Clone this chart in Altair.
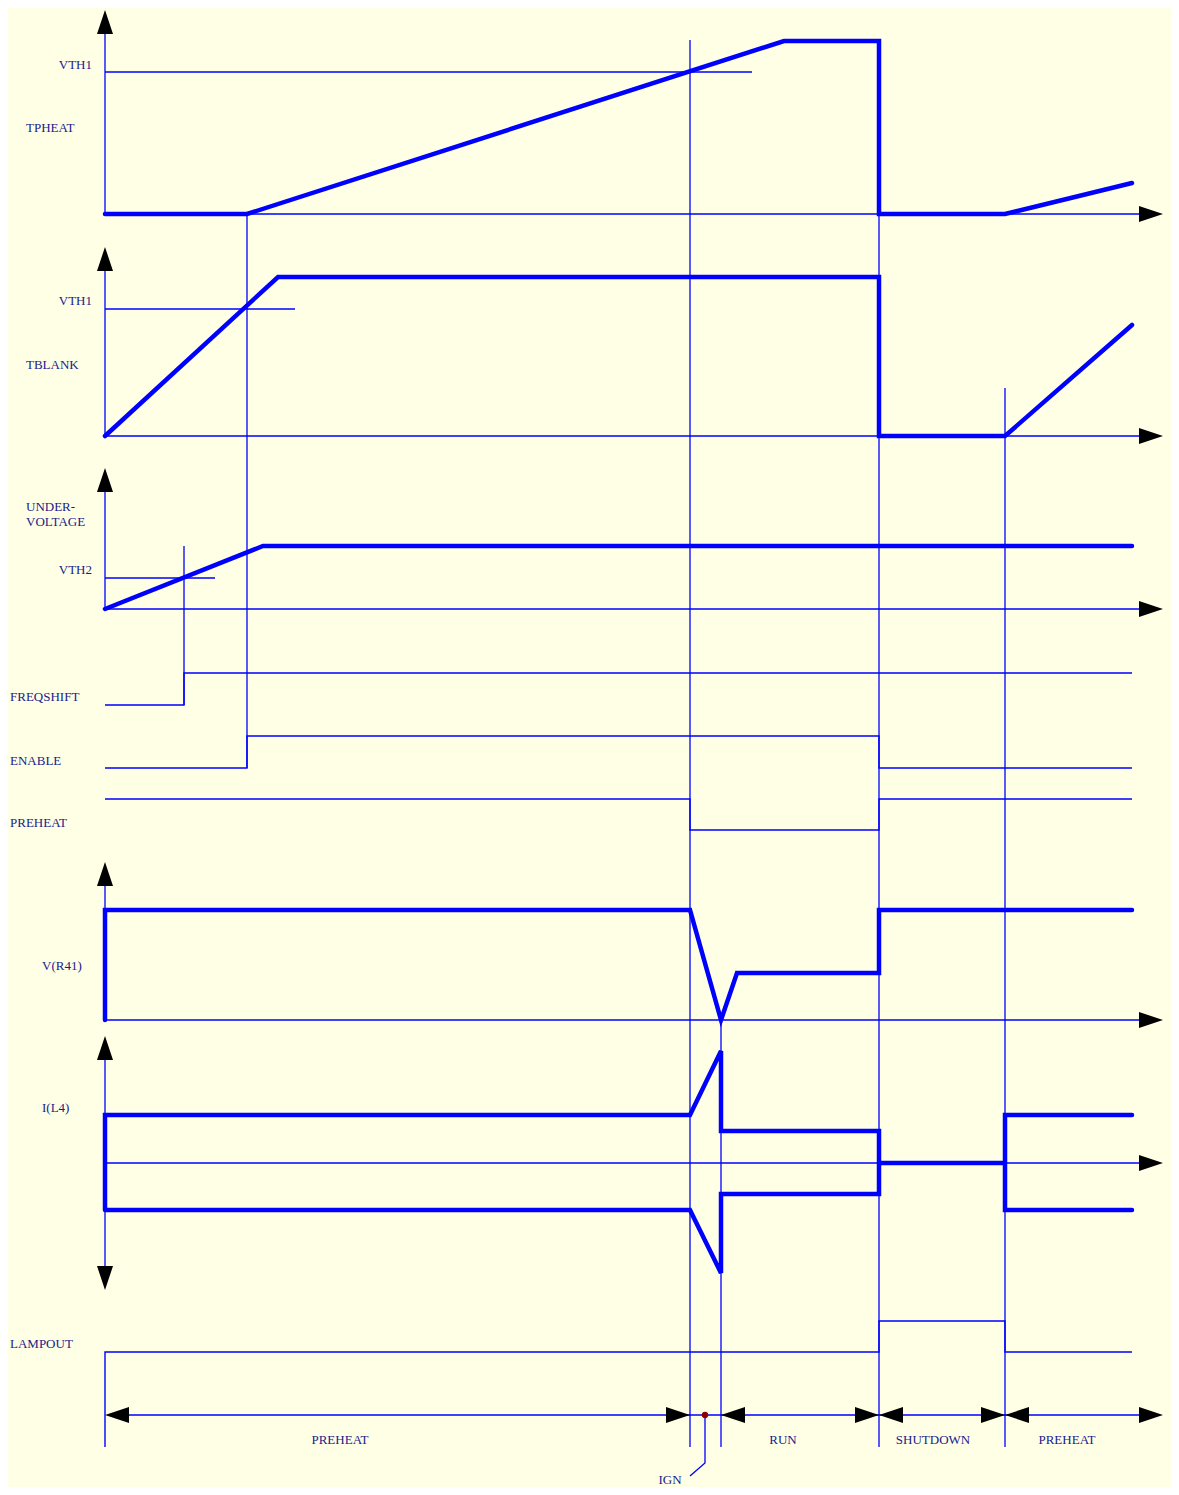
import altair as alt
import pandas as pd

# ---------------- canvas ----------------
PAGE_W, PAGE_H, MARGIN = 1179, 1495, 8

# ---------------- time instants (drawing units along the time axis) ----------------
T_START = 105      # origin of every trace
T_FREQ = 184       # undervoltage crosses VTH2 -> FREQSHIFT
T_ENABLE = 247     # TBLANK crosses VTH1 -> ENABLE
T_UV_END = 263     # undervoltage ramp settles
T_BLANK_END = 278  # TBLANK ramp settles
T_IGN = 690        # TPHEAT crosses VTH1 -> ignition
T_IGN_END = 721    # end of ignition
T_SETTLE = 737     # V(R41) run level reached
T_PH_PEAK = 784    # TPHEAT clamps
T_SHUT = 879       # shutdown
T_PRE2 = 1005      # second preheat
T_END = 1132       # end of traces
T_AXIS = 1163      # tip of the time arrows

# ---------------- panel levels (vertical drawing units) ----------------
TPHEAT_BASE, TPHEAT_TOP, TPHEAT_VTH1, TPHEAT_END = 214, 41, 72, 183
TBLANK_BASE, TBLANK_TOP, TBLANK_VTH1, TBLANK_END = 436, 277, 309, 325
UV_BASE, UV_TOP, UV_VTH2 = 609, 546, 578
FREQ_LO, FREQ_HI = 705, 673
EN_LO, EN_HI = 768, 736
PRE_HI, PRE_LO = 799, 830
VR41_BASE, VR41_HI, VR41_RUN = 1020, 910, 973
IL4_BASE, IL4_HI, IL4_LO, IL4_PK_HI, IL4_PK_LO, IL4_RUN_HI, IL4_RUN_LO = 1163, 1115, 1210, 1051, 1273, 1131, 1194
LAMP_LO, LAMP_HI = 1352, 1321
TIMELINE = 1415
MARK_BOTTOM = 1447

# ---------------- thick analog traces ----------------
tpheat_t = [T_START, T_ENABLE, T_PH_PEAK, T_SHUT, T_SHUT, T_PRE2, T_END]
tpheat_v = [TPHEAT_BASE, TPHEAT_BASE, TPHEAT_TOP, TPHEAT_TOP, TPHEAT_BASE, TPHEAT_BASE, TPHEAT_END]

tblank_t = [T_START, T_BLANK_END, T_SHUT, T_SHUT, T_PRE2, T_END]
tblank_v = [TBLANK_BASE, TBLANK_TOP, TBLANK_TOP, TBLANK_BASE, TBLANK_BASE, TBLANK_END]

uv_t = [T_START, T_UV_END, T_END]
uv_v = [UV_BASE, UV_TOP, UV_TOP]

vr41_t = [T_START, T_START, T_IGN, T_IGN_END, T_SETTLE, T_SHUT, T_SHUT, T_END]
vr41_v = [VR41_BASE, VR41_HI, VR41_HI, VR41_BASE, VR41_RUN, VR41_RUN, VR41_HI, VR41_HI]

il4a_t = [T_START, T_START, T_IGN, T_IGN_END, T_IGN_END, T_SHUT, T_SHUT, T_IGN_END, T_IGN_END, T_IGN, T_START]
il4a_v = [IL4_LO, IL4_HI, IL4_HI, IL4_PK_HI, IL4_RUN_HI, IL4_RUN_HI, IL4_RUN_LO, IL4_RUN_LO, IL4_PK_LO, IL4_LO, IL4_LO]
il4b_t = [T_SHUT, T_PRE2]
il4b_v = [IL4_BASE, IL4_BASE]
il4c_t = [T_END, T_PRE2, T_PRE2, T_END]
il4c_v = [IL4_HI, IL4_HI, IL4_LO, IL4_LO]

# ---------------- thin digital traces ----------------
freq_t = [T_START, T_FREQ, T_FREQ, T_END]
freq_v = [FREQ_LO, FREQ_LO, FREQ_HI, FREQ_HI]
en_t = [T_START, T_ENABLE, T_ENABLE, T_SHUT, T_SHUT, T_END]
en_v = [EN_LO, EN_LO, EN_HI, EN_HI, EN_LO, EN_LO]
pre_t = [T_START, T_IGN, T_IGN, T_SHUT, T_SHUT, T_END]
pre_v = [PRE_HI, PRE_HI, PRE_LO, PRE_LO, PRE_HI, PRE_HI]
lamp_t = [T_START, T_START, T_SHUT, T_SHUT, T_PRE2, T_PRE2, T_END]
lamp_v = [MARK_BOTTOM, LAMP_LO, LAMP_LO, LAMP_HI, LAMP_HI, LAMP_LO, LAMP_LO]

# ---------------- axes, thresholds and markers (thin) ----------------
guide_t = [
    [T_START, T_START], [T_START, T_AXIS - 10],      # TPHEAT axes
    [T_START, T_START], [T_START, T_AXIS - 10],      # TBLANK axes
    [T_START, T_START], [T_START, T_AXIS - 10],      # UV axes
    [T_START, T_START], [T_START, T_AXIS - 10],      # V(R41) axes
    [T_START, T_START], [T_START, T_AXIS - 10],      # I(L4) axes
    [T_START + 10, T_AXIS - 10],                     # timeline
    [T_START, 752], [T_START, 295], [T_START, 215],  # thresholds
    [T_FREQ, T_FREQ], [T_ENABLE, T_ENABLE], [T_IGN, T_IGN],
    [T_IGN_END, T_IGN_END], [T_SHUT, T_SHUT], [T_PRE2, T_PRE2],
    [705, 705, 690],                                 # IGN leader
]
guide_v = [
    [20, TPHEAT_BASE], [TPHEAT_BASE, TPHEAT_BASE],
    [257, TBLANK_BASE], [TBLANK_BASE, TBLANK_BASE],
    [478, UV_BASE], [UV_BASE, UV_BASE],
    [872, VR41_BASE], [VR41_BASE, VR41_BASE],
    [1046, 1280], [IL4_BASE, IL4_BASE],
    [TIMELINE, TIMELINE],
    [TPHEAT_VTH1, TPHEAT_VTH1], [TBLANK_VTH1, TBLANK_VTH1], [UV_VTH2, UV_VTH2],
    [UV_TOP, FREQ_LO], [TPHEAT_BASE, EN_LO], [40, MARK_BOTTOM],
    [VR41_BASE, MARK_BOTTOM], [TPHEAT_BASE, MARK_BOTTOM], [388, MARK_BOTTOM],
    [TIMELINE, 1463, 1476],
]

# ---------------- arrow heads (tip positions) ----------------
up_t = [T_START] * 5
up_v = [10, 247, 468, 862, 1036]
down_t = [T_START]
down_v = [1290]
right_t = [T_AXIS] * 6 + [T_IGN, T_SHUT, T_PRE2]
right_v = [TPHEAT_BASE, TBLANK_BASE, UV_BASE, VR41_BASE, IL4_BASE, TIMELINE, TIMELINE, TIMELINE, TIMELINE]
left_t = [T_START, T_IGN_END, T_SHUT, T_PRE2]
left_v = [TIMELINE] * 4

# ---------------- labels ----------------
lab_right_text = ["VTH1", "VTH1", "VTH2"]
lab_right_x = [92, 92, 92]
lab_right_y = [65, 301, 570]

lab_left_text = ["TPHEAT", "TBLANK", "UNDER-", "VOLTAGE", "FREQSHIFT", "ENABLE", "PREHEAT",
                 "V(R41)", "I(L4)", "LAMPOUT"]
lab_left_x = [26, 26, 26, 26, 10, 10, 10, 42, 42, 10]
lab_left_y = [128, 365, 507, 522, 697, 761, 823, 966, 1108, 1344]

lab_center_text = ["PREHEAT", "RUN", "SHUTDOWN", "PREHEAT", "IGN"]
lab_center_x = [340, 783, 933, 1067, 670]
lab_center_y = [1440, 1440, 1440, 1440, 1480]

# ---------------- build tables ----------------
rows = []
def add(name, ts, vs, w):
    for i, (t, v) in enumerate(zip(ts, vs)):
        rows.append({"id": name, "i": i, "x": t, "y": v, "w": w})

for name, ts, vs in [("tpheat", tpheat_t, tpheat_v), ("tblank", tblank_t, tblank_v),
                     ("uv", uv_t, uv_v), ("vr41", vr41_t, vr41_v),
                     ("il4a", il4a_t, il4a_v), ("il4b", il4b_t, il4b_v), ("il4c", il4c_t, il4c_v)]:
    add(name, ts, vs, 4.5)
thick_df = pd.DataFrame(rows)

rows = []
for name, ts, vs in [("freq", freq_t, freq_v), ("en", en_t, en_v), ("pre", pre_t, pre_v),
                     ("lamp", lamp_t, lamp_v)]:
    add(name, ts, vs, 1.4)
for k, (ts, vs) in enumerate(zip(guide_t, guide_v)):
    add(f"g{k}", ts, vs, 1.3)
thin_df = pd.DataFrame(rows)

UP = "M0,0L0.667,2L-0.667,2Z"
DOWN = "M0,0L0.667,-2L-0.667,-2Z"
RIGHT = "M0,0L-2,0.667L-2,-0.667Z"
LEFT = "M0,0L2,0.667L2,-0.667Z"
arr = []
for shape, ts, vs in [(UP, up_t, up_v), (DOWN, down_t, down_v), (RIGHT, right_t, right_v), (LEFT, left_t, left_v)]:
    for t, v in zip(ts, vs):
        arr.append({"x": t, "y": v, "shape": shape})
arrow_df = pd.DataFrame(arr)

dot_df = pd.DataFrame({"x": [705], "y": [TIMELINE]})

xs = alt.Scale(domain=[MARGIN, PAGE_W - MARGIN], nice=False, zero=False)
ys = alt.Scale(domain=[MARGIN, PAGE_H - MARGIN], reverse=True, nice=False, zero=False)
X = alt.X("x:Q", scale=xs, axis=None)
Y = alt.Y("y:Q", scale=ys, axis=None)

BLUE = "#0000FF"
NAVY = "#1a1a8c"
FONT = "Liberation Serif"

thin = alt.Chart(thin_df).mark_line(color=BLUE, strokeCap="butt", clip=False).encode(
    x=X, y=Y, detail="id:N", order="i:Q", strokeWidth=alt.StrokeWidth("w:Q", scale=None))
thick = alt.Chart(thick_df).mark_line(color=BLUE, strokeCap="round", strokeJoin="miter", clip=False).encode(
    x=X, y=Y, detail="id:N", order="i:Q", strokeWidth=alt.StrokeWidth("w:Q", scale=None))
arrows = alt.Chart(arrow_df).mark_point(filled=True, color="black", opacity=1, size=576, strokeWidth=0).encode(
    x=X, y=Y, shape=alt.Shape("shape:N", scale=None))
dot = alt.Chart(dot_df).mark_point(filled=True, color="#8b0000", opacity=1, size=40, shape="circle").encode(x=X, y=Y)

def labels(texts, xv, yv, align):
    d = pd.DataFrame({"text": texts, "x": xv, "y": yv})
    return alt.Chart(d).mark_text(align=align, baseline="middle", font=FONT, fontSize=13, color=NAVY).encode(
        x=X, y=Y, text="text:N")

chart = alt.layer(
    thin, thick, arrows, dot,
    labels(lab_right_text, lab_right_x, lab_right_y, "right"),
    labels(lab_left_text, lab_left_x, lab_left_y, "left"),
    labels(lab_center_text, lab_center_x, lab_center_y, "center"),
).properties(
    width=PAGE_W - 2 * MARGIN, height=PAGE_H - 2 * MARGIN,
    padding=0, autosize=alt.AutoSizeParams(type="none"),
).configure(background="#FFFFE6").configure_view(strokeWidth=0)

chart.save("out.html", embed_options={"renderer": "svg", "actions": False})
